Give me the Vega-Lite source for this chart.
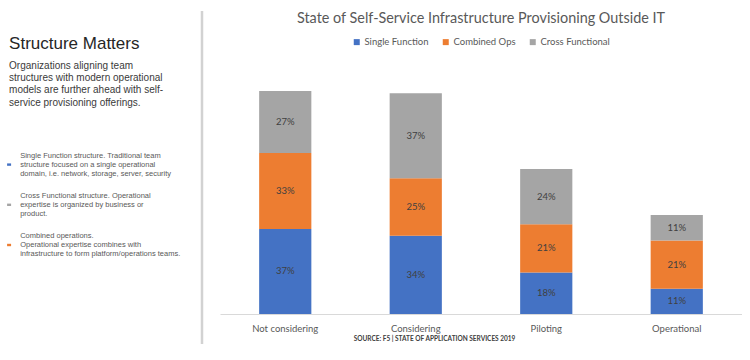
{
  "$schema": "https://vega.github.io/schema/vega-lite/v6.json",
  "background": "white",
  "padding": {"left": 0, "top": 9, "right": 0, "bottom": 0},
  "spacing": 16,
  "resolve": {"scale": {"color": "independent", "x": "independent", "y": "independent"}, "legend": {"color": "independent"}},
  "datasets": {
    "notes": [
      {"block": "heading", "text": "Structure Matters"},
      {"block": "intro", "text": "Organizations aligning team\nstructures with modern operational\nmodels are further ahead with self-\nservice provisioning offerings."},
      {"block": "Single Function", "text": "Single Function structure. Traditional team\nstructure focused on a single operational\ndomain, i.e. network, storage, server, security"},
      {"block": "Cross Functional", "text": "Cross Functional structure. Operational\nexpertise is organized by business or\nproduct."},
      {"block": "Combined Ops", "text": "Combined operations.\nOperational expertise combines with\ninfrastructure to form platform/operations teams."}
    ],
    "survey": [
      {"stage": "Not considering", "series": "Single Function", "rank": 1, "share": 0.37},
      {"stage": "Not considering", "series": "Combined Ops", "rank": 2, "share": 0.33},
      {"stage": "Not considering", "series": "Cross Functional", "rank": 3, "share": 0.27},
      {"stage": "Considering", "series": "Single Function", "rank": 1, "share": 0.34},
      {"stage": "Considering", "series": "Combined Ops", "rank": 2, "share": 0.25},
      {"stage": "Considering", "series": "Cross Functional", "rank": 3, "share": 0.37},
      {"stage": "Piloting", "series": "Single Function", "rank": 1, "share": 0.18},
      {"stage": "Piloting", "series": "Combined Ops", "rank": 2, "share": 0.21},
      {"stage": "Piloting", "series": "Cross Functional", "rank": 3, "share": 0.24},
      {"stage": "Operational", "series": "Single Function", "rank": 1, "share": 0.11},
      {"stage": "Operational", "series": "Combined Ops", "rank": 2, "share": 0.21},
      {"stage": "Operational", "series": "Cross Functional", "rank": 3, "share": 0.11}
    ]
  },
  "hconcat": [
    {
      "width": 202,
      "height": 230,
      "data": {"name": "notes"},
      "resolve": {"scale": {"y": "independent"}},
      "layer": [
        {
          "layer": [
            {
              "transform": [{"filter": "datum.block === 'heading'"}],
              "mark": {"type": "text", "align": "left", "baseline": "middle", "font": "Liberation Sans", "fontSize": 17, "color": "#262626"},
              "encoding": {
                "x": {"datum": 4.5, "type": "quantitative", "scale": {"domain": [0, 100]}, "axis": null},
                "y": {"field": "block", "type": "ordinal", "scale": {"type": "point", "padding": 0, "domain": ["heading", "intro", "gap", "Single Function", "Cross Functional", "Combined Ops"], "range": [-40, 161]}, "axis": null},
                "text": {"field": "text"}
              }
            },
            {
              "transform": [{"filter": "datum.block === 'intro'"}],
              "mark": {"type": "text", "align": "left", "baseline": "middle", "font": "Liberation Sans", "fontSize": 10, "lineHeight": 12.3, "lineBreak": "\n", "dy": -18.5, "color": "#3a3a3a"},
              "encoding": {
                "x": {"datum": 4.5, "type": "quantitative", "scale": {"domain": [0, 100]}, "axis": null},
                "y": {"field": "block", "type": "ordinal", "axis": null},
                "text": {"field": "text"}
              }
            },
            {
              "transform": [{"filter": "datum.block !== 'heading' && datum.block !== 'intro'"}],
              "mark": {"type": "text", "align": "left", "baseline": "middle", "font": "Liberation Sans", "fontSize": 7.5, "lineHeight": 9, "lineBreak": "\n", "dy": -9, "color": "#595959"},
              "encoding": {
                "x": {"datum": 10, "type": "quantitative", "scale": {"domain": [0, 100]}, "axis": null},
                "y": {"field": "block", "type": "ordinal", "axis": null},
                "text": {"field": "text"}
              }
            },
            {
              "transform": [{"filter": "datum.block !== 'heading' && datum.block !== 'intro'"}],
              "mark": {"type": "point", "filled": true, "opacity": 1, "shape": "M-1,-0.6H1V0.6H-1Z", "size": 16},
              "encoding": {
                "x": {"datum": 4.5, "type": "quantitative", "scale": {"domain": [0, 100]}, "axis": null},
                "y": {"field": "block", "type": "ordinal", "axis": null},
                "color": {
                  "field": "block",
                  "type": "nominal",
                  "scale": {"domain": ["Single Function", "Combined Ops", "Cross Functional"], "range": ["#4472C4", "#ED7D31", "#A5A5A5"]},
                  "legend": null
                }
              }
            }
          ]
        },
        {
          "data": {"values": [{}]},
          "mark": {"type": "rule", "color": "#d2d2d2", "strokeWidth": 2.5},
          "encoding": {
            "x": {"datum": 100, "type": "quantitative", "scale": {"domain": [0, 100]}, "axis": null},
            "y": {"datum": 0, "type": "quantitative", "scale": {"domain": [0, 1], "range": [-73, 260]}, "axis": null},
            "y2": {"datum": 1}
          }
        }
      ]
    },
    {
      "width": 522,
      "height": 230,
      "data": {"name": "survey"},
      "title": {
        "text": "State of Self-Service Infrastructure Provisioning Outside IT",
        "font": "Lato",
        "fontSize": 14.4,
        "fontWeight": "normal",
        "color": "#595959",
        "anchor": "middle",
        "offset": 11
      },
      "encoding": {
        "x": {
          "field": "stage",
          "type": "nominal",
          "sort": ["Not considering", "Considering", "Piloting", "Operational"],
          "scale": {"paddingInner": 0.6, "paddingOuter": 0.3},
          "axis": {
            "title": "SOURCE: F5 | STATE OF APPLICATION SERVICES 2019",
            "titleFont": "Lato",
            "titleFontSize": 6.5,
            "titleFontWeight": "bold",
            "titleColor": "#404040",
            "titlePadding": 3,
            "titleX": 214,
            "labelAngle": 0,
            "labelFont": "Lato",
            "labelFontSize": 9.5,
            "labelColor": "#595959",
            "labelPadding": 9,
            "ticks": false,
            "domainColor": "#d9d9d9",
            "domainWidth": 1,
            "grid": false
          }
        },
        "y": {
          "field": "share",
          "type": "quantitative",
          "stack": "zero",
          "scale": {"domain": [0, 1], "nice": false},
          "axis": null
        },
        "order": {"field": "rank", "type": "quantitative"}
      },
      "layer": [
        {
          "mark": {"type": "bar"},
          "encoding": {
            "color": {
              "field": "series",
              "type": "nominal",
              "scale": {"domain": ["Single Function", "Combined Ops", "Cross Functional"], "range": ["#4472C4", "#ED7D31", "#A5A5A5"]},
              "legend": {
                "orient": "top",
                "direction": "horizontal",
                "title": null,
                "symbolType": "square",
                "symbolSize": 36,
                "symbolStrokeWidth": 0,
                "labelFont": "Lato",
                "labelFontSize": 9.5,
                "labelColor": "#595959",
                "labelOffset": 3,
                "columnPadding": 12,
                "offset": 37
              }
            }
          }
        },
        {
          "mark": {"type": "text", "font": "Lato", "fontSize": 9.5, "color": "#404040", "baseline": "middle"},
          "encoding": {
            "y": {"field": "share", "type": "quantitative", "stack": "zero", "bandPosition": 0.5},
            "detail": {"field": "series"},
            "text": {"field": "share", "type": "quantitative", "format": ".0%"}
          }
        }
      ]
    }
  ],
  "config": {
    "view": {"stroke": null},
    "legend": {"layout": {"top": {"anchor": "middle"}}}
  }
}
